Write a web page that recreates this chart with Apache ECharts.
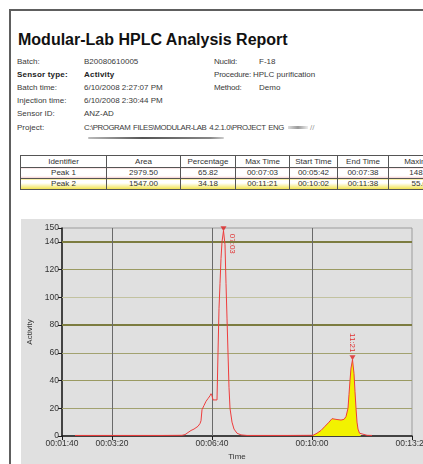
<!DOCTYPE html>
<html>
<head>
<meta charset="utf-8">
<script src="https://cdn.jsdelivr.net/npm/echarts@6/dist/echarts.min.js"></script>
<style>
html,body{margin:0;padding:0;width:423px;height:464px;overflow:hidden;background:#fff;font-family:"Liberation Sans",Arial,sans-serif;position:relative;}
#frame{position:absolute;left:9px;top:9px;width:440px;height:480px;border-left:2px solid #5e5e5e;border-top:2px solid #5e5e5e;}
#title{position:absolute;left:18px;top:31px;font-size:16px;font-weight:bold;line-height:18px;color:#111;white-space:nowrap;}
.t{position:absolute;white-space:nowrap;font-size:8px;line-height:10px;color:#3a3a3a;}
.b{font-weight:bold;color:#222;letter-spacing:0.2px;}
.p{letter-spacing:-0.4px;font-size:7.8px;word-spacing:1px;}
#scribble{position:absolute;left:88px;top:137px;width:136px;height:2px;background:linear-gradient(to right,#bbb,#555 40%,#888 90%,#ccc);border-radius:1px;}
#smudge{position:absolute;left:288px;top:126px;width:20px;height:3px;background:linear-gradient(to right,#ddd,#999,#eee);}
#peaks{position:absolute;left:20px;top:155px;width:434px;border-collapse:collapse;table-layout:fixed;}
#peaks td{border:1px solid #555;font-size:8px;height:10px;padding:0;text-align:center;color:#333;line-height:10px;overflow:hidden;white-space:nowrap;}
#peaks tr.r1 td{background:linear-gradient(to bottom,#fff 75%,#f4c4c4 100%);}
#peaks tr.r2 td{background:linear-gradient(to bottom,#fff 35%,#f0e040 100%);}
#chart{position:absolute;left:21px;top:219px;width:402px;height:245px;}
</style>
</head>
<body>
<div id="frame"></div>
<div id="title">Modular-Lab HPLC Analysis Report</div>
<div id="info"></div>
<div id="scribble"></div>
<div id="smudge"></div>
<div class="t" style="left:310px;top:123px;color:#999">//</div>
<table id="peaks"></table>
<div id="chart"></div>
<script>
// report header
var infoLabels = ['Batch:', 'Sensor type:', 'Batch time:', 'Injection time:', 'Sensor ID:', 'Project:']
var infoValues = ['B20080610005', 'Activity', '6/10/2008 2:27:07 PM', '6/10/2008 2:30:44 PM', 'ANZ-AD',
    'C:\\PROGRAM FILES\\MODULAR-LAB 4.2.1.0\\PROJECT ENG']
var infoLabels2 = ['Nuclid:', 'Procedure:', 'Method:']
var infoValues2 = ['F-18', 'HPLC purification', 'Demo']

// peak table
var tableHeader = ['Identifier', 'Area', 'Percentage', 'Max Time', 'Start Time', 'End Time', 'Maximum']
var peakIds = ['Peak 1', 'Peak 2']
var peakArea = ['2979.50', '1547.00']
var peakPct = ['65.82', '34.18']
var peakMaxTime = ['00:07:03', '00:11:21']
var peakStart = ['00:05:42', '00:10:02']
var peakEnd = ['00:07:38', '00:11:38']
var peakMax = [148.00, 55.00]

// chromatogram, time in seconds
var traceTime = [126, 200, 300, 340, 346, 352, 358, 364, 368, 372, 376, 378, 380, 384, 388, 392, 396, 398, 400, 402, 406, 410,
    412, 414, 416, 418, 420, 423, 426, 428, 430, 432, 434, 436, 440, 444, 450, 458, 470, 550, 602,
    610, 618, 626, 634, 640, 644, 648, 652, 658, 664, 668, 672, 674, 676, 678, 681, 684, 686, 688, 690, 692, 695, 698, 710, 720]
var traceActivity = [0.4, 0.4, 0.4, 0.5, 1, 2.5, 4, 5, 5, 7, 9, 11, 19, 22, 25, 27, 29, 30.5, 29, 26, 25, 26,
    60, 92, 110, 128, 140, 148, 138, 110, 85, 60, 35, 20, 10, 5, 2, 0.8, 0.4, 0.4, 0.5,
    2, 4, 7, 10, 12.5, 13, 12, 11, 11.5, 12, 14, 20, 30, 40, 49, 55, 45, 32, 20, 10, 5, 2, 0.8, 0.5, 0.4]

var xTicks = [100, 200, 400, 600, 800]
var xGrid = [200, 400, 600]
var yGrid = [20, 40, 60, 80, 100, 120, 140]
var yGridColor = ['#a2a270', '#9a9a62', '#a2a270', '#7c7c40', '#c2c2a0', '#9a9a62', '#7c7c40']
var yGridWidth = [1, 1, 1, 2, 1, 1, 2]

var pad = n => (n < 10 ? '0' : '') + n
var toSec = s => { var p = s.split(':'); return +p[0] * 3600 + +p[1] * 60 + +p[2] }
var fmtTime = v => pad(Math.floor(v / 3600)) + ':' + pad(Math.floor(v % 3600 / 60)) + ':' + pad(v % 60)

// header text
var html = ''
var rowY = [57, 70, 83, 96, 109, 123]
infoLabels.forEach((l, i) => {
    var cls = i === 1 ? 't b' : (i === 5 ? 't p' : 't')
    html += '<div class="' + (i === 1 ? 't b' : 't') + '" style="left:17px;top:' + rowY[i] + 'px">' + l + '</div>'
    html += '<div class="' + cls + '" style="left:84px;top:' + rowY[i] + 'px">' + infoValues[i] + '</div>'
})
var valX2 = [259, 253, 259]
infoLabels2.forEach((l, i) => {
    html += '<div class="t" style="left:214px;top:' + rowY[i] + 'px;letter-spacing:-0.2px">' + l + '</div>'
    html += '<div class="t" style="left:' + valX2[i] + 'px;top:' + rowY[i] + 'px">' + infoValues2[i] + '</div>'
})
document.getElementById('info').innerHTML = html

var colW = [86, 74, 55, 54, 48, 51, 66]
var th = '<colgroup>' + colW.map(w => '<col style="width:' + w + 'px">').join('') + '</colgroup>'
th += '<tr>' + tableHeader.map(h => '<td style="height:11px">' + h + '</td>').join('') + '</tr>'
peakIds.forEach((id, i) => {
    var cells = [id, peakArea[i], peakPct[i], peakMaxTime[i], peakStart[i], peakEnd[i], peakMax[i].toFixed(2)]
    th += '<tr class="r' + (i + 1) + '">' + cells.map(c => '<td>' + c + '</td>').join('') + '</tr>'
})
document.getElementById('peaks').innerHTML = th

// chart
var trace = traceTime.map((t, i) => [t, traceActivity[i]])
var s2 = toSec(peakStart[1]), e2 = toSec(peakEnd[1])
var fill = trace.filter(p => p[0] >= s2 && p[0] <= e2)
var peakPts = peakMaxTime.map((t, i) => [toSec(t), peakMax[i]])

var gridLines = yGrid.map((v, i) => ({ yAxis: v, lineStyle: { color: yGridColor[i], width: yGridWidth[i], type: 'solid' } }))
    .concat(xGrid.map(v => ({ xAxis: v, lineStyle: { color: '#6a6a6a', width: 1, type: 'solid' } })))

var mychart = echarts.init(document.getElementById('chart'))
mychart.setOption({
    backgroundColor: '#e0e0e0',
    animation: false,
    grid: { left: 41, right: 11, top: 9, bottom: 28, show: true, borderColor: '#9c9c9c', borderWidth: 1, outerBoundsMode: 'none' },
    xAxis: {
        type: 'value', min: 100, max: 800,
        name: 'Time', nameLocation: 'middle', nameGap: 17,
        nameTextStyle: { fontSize: 8, color: '#333', fontFamily: 'Liberation Sans' },
        axisLine: { onZero: false, lineStyle: { color: '#1a1a1a', width: 1.5 } },
        axisTick: { customValues: xTicks, length: 4, lineStyle: { color: '#1a1a1a' } },
        axisLabel: { customValues: xTicks, formatter: fmtTime, fontSize: 8.5, color: '#333', margin: 3, fontFamily: 'Liberation Sans' },
        splitLine: { show: false }
    },
    yAxis: {
        type: 'value', min: 0, max: 150, interval: 20,
        name: 'Activity', nameLocation: 'middle', nameGap: 28,
        nameTextStyle: { fontSize: 8, color: '#333', fontFamily: 'Liberation Sans' },
        axisLine: { show: true, lineStyle: { color: '#1a1a1a', width: 1.5 } },
        axisTick: { show: true, length: 4, lineStyle: { color: '#1a1a1a' } },
        axisLabel: { fontSize: 8.5, color: '#333', margin: 3, fontFamily: 'Liberation Sans' },
        splitLine: { show: false }
    },
    series: [
        {
            type: 'line', data: fill, symbol: 'none', silent: true, z: 2,
            lineStyle: { width: 0 }, areaStyle: { color: '#f2f200', opacity: 1 },
            markLine: { silent: true, symbol: 'none', label: { show: false }, z: 1, data: gridLines }
        },
        {
            type: 'line', data: trace, symbol: 'none', z: 3,
            lineStyle: { color: '#ee3c3c', width: 1 }
        },
        {
            type: 'scatter', data: peakPts, z: 4,
            symbol: 'triangle', symbolRotate: 180, symbolSize: [6, 5], symbolOffset: [0, -2],
            itemStyle: { color: '#e02020' }
        }
    ]
})

// vertical peak time labels next to markers
var labelOff = [[9, 13], [0, -17]]
mychart.setOption({
    graphic: peakPts.map((p, i) => {
        var px = mychart.convertToPixel({ gridIndex: 0 }, p)
        return {
            type: 'text', x: px[0] + labelOff[i][0], y: px[1] + labelOff[i][1], rotation: -Math.PI / 2,
            style: { text: peakMaxTime[i].slice(3), fill: '#e03030', font: '8px "Liberation Sans"', align: 'center', verticalAlign: 'middle' }
        }
    })
})
</script>
</body>
</html>
